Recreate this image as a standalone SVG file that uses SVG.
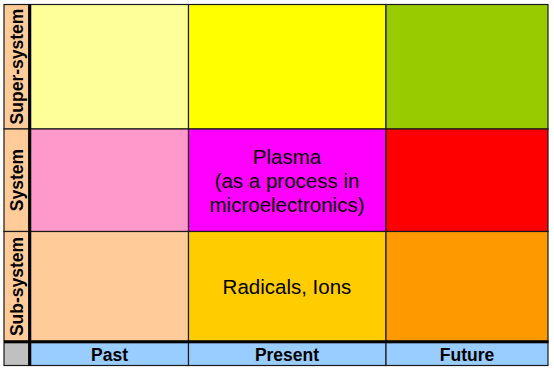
<svg xmlns="http://www.w3.org/2000/svg" width="554" height="369" viewBox="0 0 554 369">
<style>
.cell{stroke:#1a1a1a;stroke-width:1.2}
.lbl{font-family:"Liberation Sans",Arial,sans-serif;font-weight:bold;font-size:17.5px;fill:#000;text-anchor:middle}
.txt{font-family:"Liberation Sans",Arial,sans-serif;font-size:20.5px;fill:#000;text-anchor:middle}
</style>
<rect width="554" height="369" fill="#ffffff"/>
<g id="row-labels">
<g id="label-super"><rect class="cell" x="4" y="4.5" width="25" height="124.5" fill="#FFCC99"/><text class="lbl" transform="translate(23,66.5) rotate(-90)">Super-system</text></g>
<g id="label-system"><rect class="cell" x="4" y="129" width="25" height="102.5" fill="#FFCC99"/><text class="lbl" transform="translate(23,180) rotate(-90)">System</text></g>
<g id="label-sub"><rect class="cell" x="4" y="231.5" width="25" height="110" fill="#FFCC99"/><text class="lbl" transform="translate(23,286.5) rotate(-90)">Sub-system</text></g>
</g>
<g id="cells">
<g id="c-super-past"><rect class="cell" x="30.5" y="4.5" width="158" height="124.5" fill="#FFFF99"/></g>
<g id="c-super-present"><rect class="cell" x="188.5" y="4.5" width="197.5" height="124.5" fill="#FFFF00"/></g>
<g id="c-super-future"><rect class="cell" x="386" y="4.5" width="162" height="124.5" fill="#99CC00"/></g>
<g id="c-system-past"><rect class="cell" x="30.5" y="129" width="158" height="102.5" fill="#FF99CC"/></g>
<g id="c-system-present"><rect class="cell" x="188.5" y="129" width="197.5" height="102.5" fill="#FF00FF"/>
<text class="txt" x="287" y="163.5">Plasma</text>
<text class="txt" x="287" y="187.5">(as a process in</text>
<text class="txt" x="287" y="211.5">microelectronics)</text></g>
<g id="c-system-future"><rect class="cell" x="386" y="129" width="162" height="102.5" fill="#FF0000"/></g>
<g id="c-sub-past"><rect class="cell" x="30.5" y="231.5" width="158" height="110" fill="#FFCC99"/></g>
<g id="c-sub-present"><rect class="cell" x="188.5" y="231.5" width="197.5" height="110" fill="#FFCC00"/>
<text class="txt" x="287" y="293.5">Radicals, Ions</text></g>
<g id="c-sub-future"><rect class="cell" x="386" y="231.5" width="162" height="110" fill="#FF9900"/></g>
</g>
<g id="col-headers">
<g id="corner"><rect class="cell" x="4" y="342.5" width="25" height="23" fill="#C0C0C0"/></g>
<g id="h-past"><rect class="cell" x="30.5" y="342.5" width="158" height="23" fill="#99CCFF"/><text class="lbl" x="109.5" y="360.5">Past</text></g>
<g id="h-present"><rect class="cell" x="188.5" y="342.5" width="197.5" height="23" fill="#99CCFF"/><text class="lbl" x="287" y="360.5">Present</text></g>
<g id="h-future"><rect class="cell" x="386" y="342.5" width="162" height="23" fill="#99CCFF"/><text class="lbl" x="467" y="360.5">Future</text></g>
</g>
<g id="dividers" stroke="#000" stroke-width="3">
<line x1="29.7" y1="4" x2="29.7" y2="366"/>
<line x1="4" y1="341.8" x2="548.5" y2="341.8"/>
</g>
</svg>
